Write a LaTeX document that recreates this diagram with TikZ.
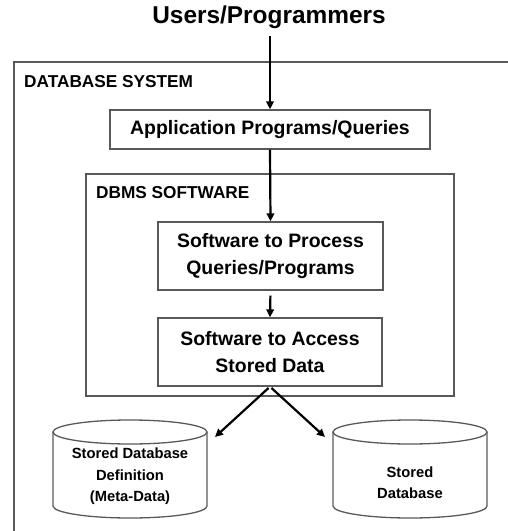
\documentclass[tikz,border=0pt]{standalone}
\usepackage{fontspec}
\setmainfont{Liberation Sans}
\usetikzlibrary{arrows.meta}

\tikzset{
  frame/.style={draw=black!65,line width=1.3bp},
  box/.style={frame,rectangle,inner sep=0pt,align=center,
    font=\bfseries\fontsize{19.5}{27}\selectfont},
  tag/.style={anchor=west,inner sep=0pt,font=\bfseries\fontsize{17.3}{20}\selectfont},
  disk/.pic={
    \draw[frame] (-77,-37) -- (-77,37) arc[start angle=180,end angle=0,x radius=77,y radius=12] -- (77,-37);
    \draw[frame] (0,-37) ellipse[x radius=77,y radius=12];
  },
  disktext/.style={align=center,inner sep=0pt,font=\bfseries\fontsize{14.8}{21.5}\selectfont},
  flow/.style={line width=2.2bp,-{Triangle[length=8bp,width=7.5bp]}}
}

\begin{document}
\begin{tikzpicture}[x=1bp,y=-1bp]
  \useasboundingbox (0,0) rectangle (508,531);
  % outer frame, cut off at the right and bottom
  \draw[frame] (14,545) -- (14,62) -- (525,62);
  \node[tag] (dbsys) at (24,82) {DATABASE SYSTEM};
  \node[font=\bfseries\fontsize{24.5}{28}\selectfont,inner sep=0pt] (users) at (269,17) {Users/Programmers};
  \node[box,minimum width=320bp,minimum height=39bp] (app) at (270,129.5) {Application Programs/Queries};
  % dbms software
  \draw[frame] (86,174) rectangle (454,396);
  \node[tag] (dbmssw) at (96,193) {DBMS SOFTWARE};
  \node[box,minimum width=225bp,minimum height=68bp] (proc) at (270.5,256) {Software to Process\\Queries/Programs};
  \node[box,minimum width=224bp,minimum height=68bp] (access) at (270,352) {Software to Access\\Stored Data};
  % stored data
  \pic at (130,469) {disk};
  \node[disktext] (meta) at (130,476.5) {Stored Database\\Definition\\(Meta-Data)};
  \pic at (410,469) {disk};
  \node[disktext] (stored) at (410,482.5) {Stored\\Database};
  \coordinate (tipmeta) at (215,437);
  \coordinate (tipstored) at (325,437);
  % arrows
  \draw[flow,shorten <=7bp] (users.south -| app.north) -- (app.north);
  \draw[flow] (app.south) -- (proc.north);
  \draw[flow,shorten <=5bp] (proc.south) -- (access.north);
  \draw[flow,shorten <=2bp] (access.south) -- (tipmeta);
  \draw[flow,shorten <=2bp] (access.south) -- (tipstored);
\end{tikzpicture}
\end{document}
